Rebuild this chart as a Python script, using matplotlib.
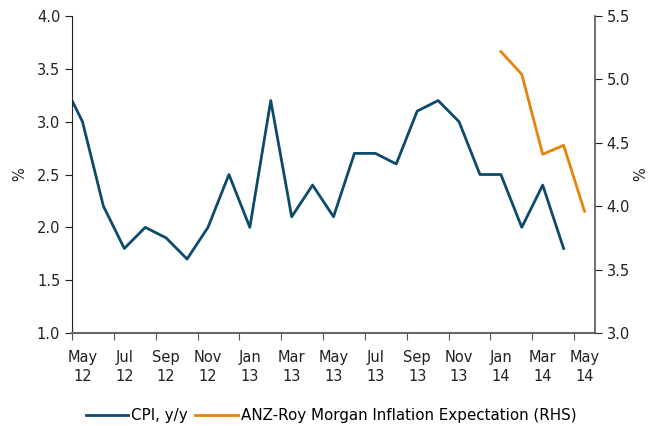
import matplotlib.pyplot as plt

# months since May 12 (0 = May 12); -1 = Apr 12 (clipped at left edge)
cpi_months = list(range(-1, 24))
cpi = [3.4, 3.0, 2.2, 1.8, 2.0, 1.9, 1.7, 2.0, 2.5, 2.0, 3.2, 2.1, 2.4,
       2.1, 2.7, 2.7, 2.6, 3.1, 3.2, 3.0, 2.5, 2.5, 2.0, 2.4, 1.8]

anz_months = [20, 21, 22, 23, 24]
anz = [5.22, 5.04, 4.41, 4.48, 3.96]

tick_labels = ['May\n12', 'Jul\n12', 'Sep\n12', 'Nov\n12', 'Jan\n13', 'Mar\n13', 'May\n13',
               'Jul\n13', 'Sep\n13', 'Nov\n13', 'Jan\n14', 'Mar\n14', 'May\n14']

blue = '#0d4a6b'
orange = '#e8820c'

plt.rcParams['font.family'] = 'DejaVu Sans'
plt.rcParams['font.size'] = 10.5

fig = plt.figure(figsize=(6.62, 4.26), dpi=100)
ax = fig.add_axes([0.1088, 0.2183, 0.7900, 0.7441])
ax2 = ax.twinx()

l1, = ax.plot(cpi_months, cpi, color=blue, lw=2, label='CPI, y/y')
l2, = ax2.plot(anz_months, anz, color=orange, lw=2, label='ANZ-Roy Morgan Inflation Expectation (RHS)')

ax.set_xlim(-0.5, 24.5)
ax.set_ylim(1.0, 4.0)
ax2.set_ylim(3.0, 5.5)
ax.set_yticks([1.0, 1.5, 2.0, 2.5, 3.0, 3.5, 4.0])
ax2.set_yticks([3.0, 3.5, 4.0, 4.5, 5.0, 5.5])
ax.yaxis.set_major_formatter(plt.FormatStrFormatter('%.1f'))
ax2.yaxis.set_major_formatter(plt.FormatStrFormatter('%.1f'))

# ticks at boundaries, labels in the middle of the month
ax.set_xticks([m - 0.5 for m in range(0, 25, 2)])
ax.set_xticklabels([])
ax.set_xticks(list(range(0, 25, 2)), minor=True)
ax.set_xticklabels(tick_labels, minor=True, color='#222222', linespacing=1.4)
ax.tick_params(axis='x', which='minor', length=0, pad=12)
ax.tick_params(axis='x', which='major', length=5, color='#555555', direction='out')
ax.tick_params(axis='y', length=5, direction='out', colors='#222222')
ax2.tick_params(axis='y', length=5, direction='out', colors='#222222')

for a in (ax, ax2):
    a.spines['top'].set_visible(False)
ax.spines['bottom'].set_color('#666666')
ax.spines['bottom'].set_linewidth(1.5)
ax2.spines['bottom'].set_visible(False)
ax.spines['left'].set_color('#222222')
ax2.spines['left'].set_visible(False)
ax2.spines['right'].set_color('#555555')
ax2.spines['right'].set_linewidth(1.2)
ax.spines['right'].set_visible(False)

ax.set_ylabel('%', color='#222222', labelpad=7)
ax2.set_ylabel('%', color='#222222', labelpad=2)

fig.legend(handles=[l1, l2], loc='center', bbox_to_anchor=(0.5, 0.025), ncol=2,
           frameon=False, handlelength=2.8, handletextpad=0.2, columnspacing=0.5,
           fontsize=10.9)

fig.savefig('out.png', dpi=100)
